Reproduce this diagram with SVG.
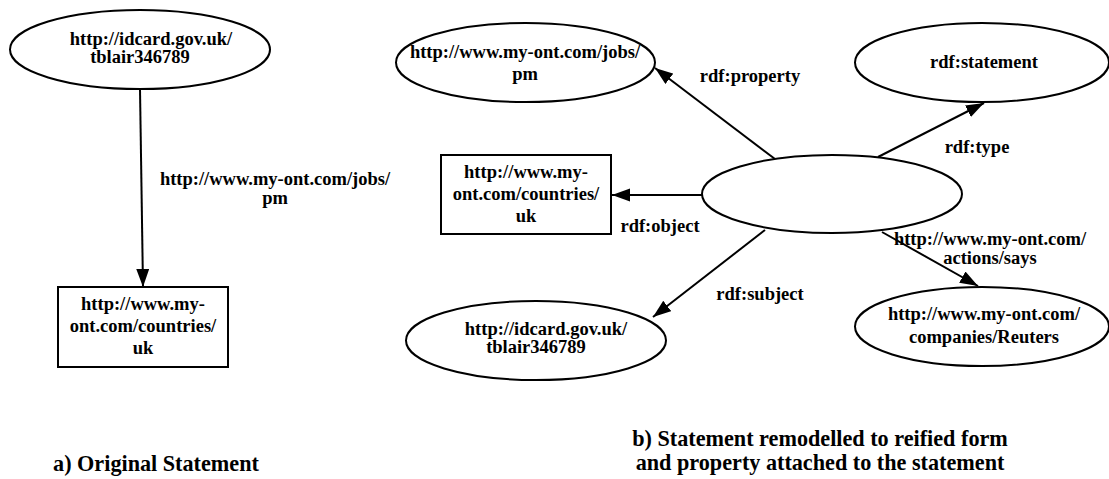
<svg xmlns="http://www.w3.org/2000/svg" width="1109" height="479" viewBox="0 0 1109 479">
<defs>
<marker id="ah" markerUnits="userSpaceOnUse" markerWidth="19" markerHeight="14" refX="18" refY="6.5" orient="auto">
<path d="M0,0 L18,6.5 L0,13 z" fill="#000"/>
</marker>
<style>
.n{fill:#fff;stroke:#000;stroke-width:2}
.t{font-weight:bold;font-size:18.5px;fill:#000;text-anchor:middle}
.c{font-weight:bold;font-size:22.2px;fill:#000;text-anchor:middle}
.e{stroke:#000;stroke-width:2;fill:none;marker-end:url(#ah)}
</style>
</defs>
<rect width="1109" height="479" fill="#fff"/>
<g id="connectors">
<line class="e" x1="140" y1="89" x2="143" y2="287"/>
<line class="e" x1="775" y1="159" x2="655" y2="68"/>
<line class="e" x1="703" y1="195" x2="612" y2="195"/>
<line class="e" x1="878" y1="157" x2="984" y2="103"/>
<line class="e" x1="765" y1="230" x2="653" y2="317"/>
<line class="e" x1="882" y1="232" x2="978" y2="286"/>
</g>
<g font-family="'Liberation Serif', 'Times New Roman', Tinos, serif">
<g id="labels">
<text class="t" x="275" y="185">http://www.my-ont.com/jobs/</text>
<text class="t" x="275" y="204">pm</text>
<text class="t" x="750" y="82">rdf:property</text>
<text class="t" x="977" y="153">rdf:type</text>
<text class="t" x="660" y="232">rdf:object</text>
<text class="t" x="760" y="300">rdf:subject</text>
<text class="t" x="990" y="245">http://www.my-ont.com/</text>
<text class="t" x="990" y="264">actions/says</text>
</g>
<g id="a-subject">
<ellipse class="n" cx="140" cy="49.5" rx="130" ry="39.5"/>
<text class="t" x="151" y="45">http://idcard.gov.uk/</text>
<text class="t" x="140" y="63">tblair346789</text>
</g>
<g id="a-object">
<rect class="n" x="58" y="287" width="170" height="80"/>
<text class="t" x="143" y="310">http://www.my-</text>
<text class="t" x="143" y="332">ont.com/countries/</text>
<text class="t" x="143" y="354">uk</text>
</g>
<g id="b-pm">
<ellipse class="n" cx="525.5" cy="62.5" rx="129.5" ry="39.5"/>
<text class="t" x="525" y="58">http://www.my-ont.com/jobs/</text>
<text class="t" x="525" y="80">pm</text>
</g>
<g id="b-statement">
<ellipse class="n" cx="982" cy="62.5" rx="127" ry="39.5"/>
<text class="t" x="984" y="68">rdf:statement</text>
</g>
<g id="b-country">
<rect class="n" x="441" y="155" width="170" height="79"/>
<text class="t" x="526" y="178">http://www.my-</text>
<text class="t" x="526" y="200">ont.com/countries/</text>
<text class="t" x="526" y="222">uk</text>
</g>
<g id="b-blank">
<ellipse class="n" cx="832" cy="194" rx="130" ry="39"/>
</g>
<g id="b-subject">
<ellipse class="n" cx="536" cy="340.5" rx="130" ry="39.5"/>
<text class="t" x="546" y="335">http://idcard.gov.uk/</text>
<text class="t" x="536" y="353">tblair346789</text>
</g>
<g id="b-reuters">
<ellipse class="n" cx="982" cy="326.5" rx="127" ry="39.5"/>
<text class="t" x="984" y="320">http://www.my-ont.com/</text>
<text class="t" x="984" y="343">companies/Reuters</text>
</g>
<g id="captions">
<text class="c" x="156" y="471">a) Original Statement</text>
<text class="c" x="820" y="446">b) Statement remodelled to reified form</text>
<text class="c" x="820" y="470">and property attached to the statement</text>
</g>
</g>
</svg>
